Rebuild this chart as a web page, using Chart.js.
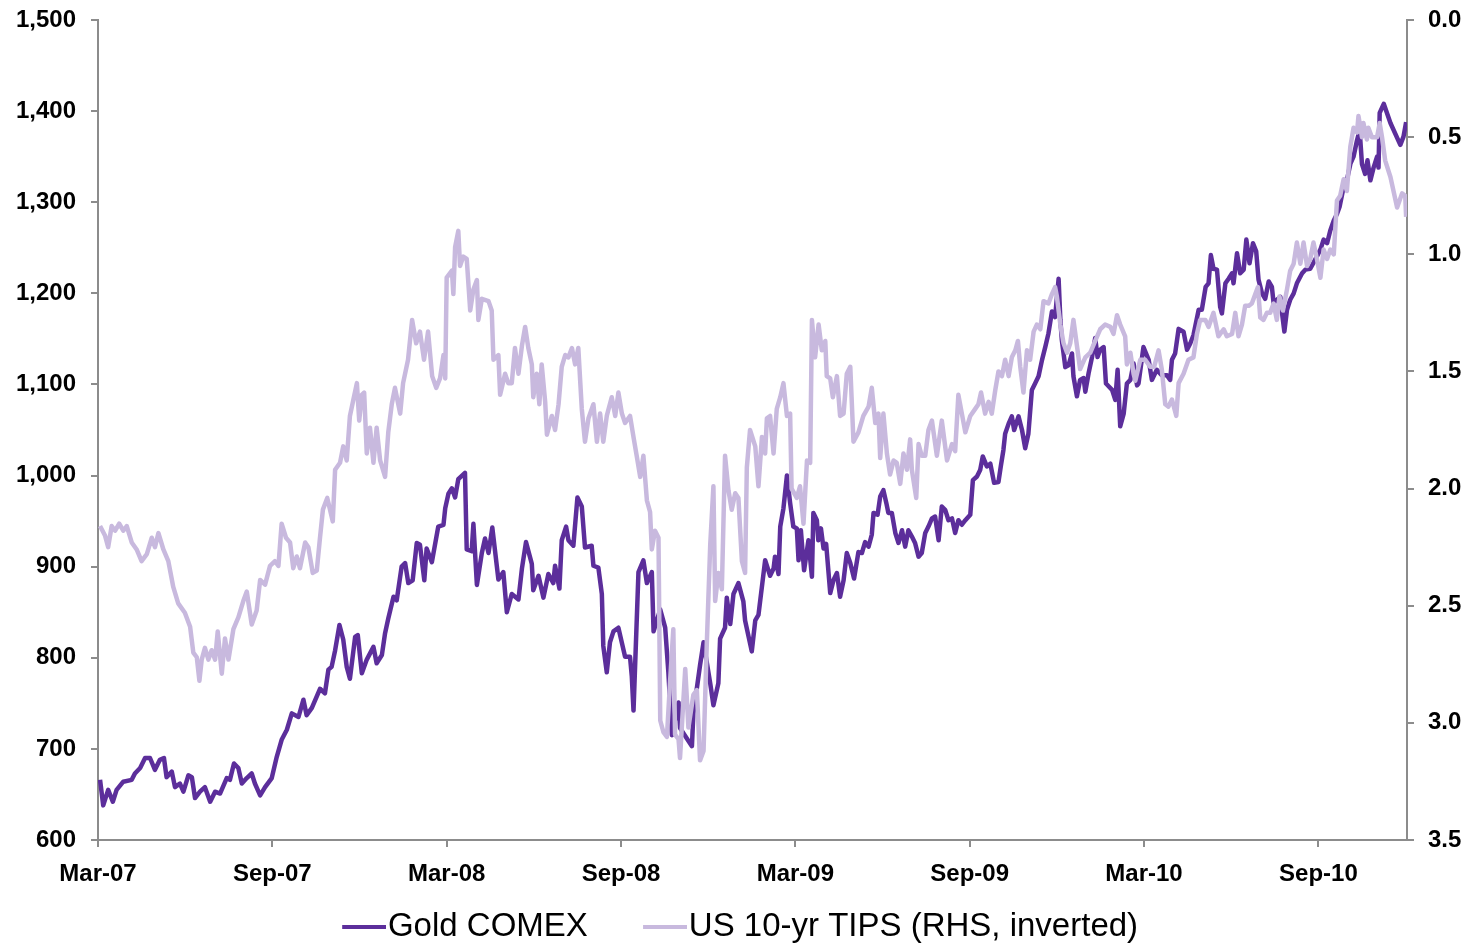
<!DOCTYPE html>
<html>
<head>
<meta charset="utf-8">
<script src="https://cdn.jsdelivr.net/npm/chart.js@4.4.0/dist/chart.umd.min.js"></script>
<style>
  body { margin: 0; background: #fff; }
  canvas { display: block; }
</style>
</head>
<body>
<canvas id="chart" width="1473" height="944"></canvas>
<script>
// x = months since Mar-07
const tickMonths = [0, 6, 12, 18, 24, 30, 36, 42];
const tickLabels = ['Mar-07', 'Sep-07', 'Mar-08', 'Sep-08', 'Mar-09', 'Sep-09', 'Mar-10', 'Sep-10'];

// Gold COMEX, USD/oz  [month, value]
const goldPoints = [
  [0.07,666],[0.18,638],[0.35,655],[0.51,642],[0.64,655],[0.87,664],[1.16,666],[1.27,673],[1.45,679],[1.62,690],
  [1.79,690],[1.96,677],[2.13,688],[2.27,690],[2.36,669],[2.54,675],[2.65,658],[2.82,662],[2.94,653],[3.11,671],
  [3.23,669],[3.34,646],[3.51,653],[3.68,658],[3.86,642],[4.03,653],[4.20,651],[4.43,668],[4.54,666],[4.68,684],
  [4.83,679],[4.95,662],[5.12,668],[5.29,673],[5.40,662],[5.58,649],[5.75,658],[5.98,668],[6.15,691],[6.32,710],
  [6.50,721],[6.67,739],[6.90,735],[7.07,754],[7.18,737],[7.36,745],[7.64,766],[7.81,761],[7.93,787],[8.04,790],
  [8.16,808],[8.31,836],[8.44,820],[8.56,790],[8.67,777],[8.85,823],[8.94,825],[9.08,783],[9.25,798],[9.48,812],
  [9.59,794],[9.77,803],[9.88,827],[9.99,843],[10.17,867],[10.28,863],[10.45,900],[10.57,904],[10.68,882],[10.83,885],
  [10.97,926],[11.08,924],[11.23,885],[11.31,920],[11.49,905],[11.71,944],[11.89,946],[11.95,964],[12.06,980],[12.18,986],
  [12.29,976],[12.40,996],[12.63,1003],[12.69,919],[12.86,917],[12.92,947],[13.04,880],[13.21,915],[13.32,931],[13.44,915],
  [13.57,943],[13.78,886],[13.95,894],[14.07,850],[14.24,870],[14.47,864],[14.59,898],[14.73,927],[14.93,903],[14.98,874],
  [15.16,890],[15.33,866],[15.50,892],[15.67,882],[15.73,901],[15.88,876],[15.96,929],[16.11,944],[16.19,929],[16.36,923],
  [16.50,976],[16.65,966],[16.76,921],[16.99,923],[17.05,901],[17.22,899],[17.34,870],[17.39,813],[17.51,784],[17.62,817],
  [17.74,829],[17.91,833],[18.14,801],[18.31,801],[18.37,780],[18.43,742],[18.60,894],[18.77,907],[18.89,882],[19.06,894],
  [19.12,829],[19.35,853],[19.52,833],[19.63,784],[19.75,715],[19.98,751],[20.03,723],[20.44,703],[20.49,739],[20.72,792],
  [20.84,817],[21.07,772],[21.18,748],[21.35,772],[21.41,821],[21.58,833],[21.64,866],[21.76,837],[21.87,870],[22.04,882],
  [22.21,862],[22.27,841],[22.50,807],[22.62,841],[22.73,847],[22.96,907],[23.13,890],[23.25,898],[23.30,911],[23.42,892],
  [23.48,944],[23.59,964],[23.71,1000],[23.82,970],[23.93,944],[24.05,942],[24.11,907],[24.19,940],[24.30,896],[24.45,929],
  [24.57,889],[24.62,959],[24.74,951],[24.79,929],[24.88,942],[24.97,920],[25.06,925],[25.20,871],[25.31,885],[25.43,893],
  [25.54,867],[25.66,885],[25.77,915],[25.89,904],[26.02,887],[26.17,916],[26.29,915],[26.40,927],[26.52,922],[26.63,935],
  [26.69,959],[26.83,957],[26.92,977],[27.03,984],[27.13,970],[27.20,959],[27.32,959],[27.44,937],[27.55,926],[27.67,940],
  [27.78,922],[27.89,940],[28.01,933],[28.12,926],[28.24,911],[28.35,915],[28.47,937],[28.58,944],[28.70,953],[28.81,955],
  [28.93,929],[29.04,966],[29.16,962],[29.27,951],[29.39,953],[29.50,937],[29.61,951],[29.73,946],[29.85,951],[30.02,957],
  [30.11,995],[30.25,999],[30.36,1006],[30.45,1021],[30.59,1010],[30.71,1013],[30.84,992],[30.99,993],[31.07,1010],[31.16,1028],
  [31.22,1046],[31.34,1057],[31.45,1065],[31.53,1050],[31.68,1065],[31.80,1050],[31.91,1030],[32.02,1046],[32.14,1094],[32.25,1101],
  [32.37,1109],[32.49,1127],[32.60,1141],[32.71,1156],[32.83,1180],[32.94,1174],[33.06,1216],[33.12,1171],[33.17,1149],[33.29,1119],
  [33.40,1121],[33.52,1134],[33.57,1109],[33.69,1087],[33.80,1105],[33.92,1107],[33.98,1092],[34.09,1112],[34.21,1130],[34.32,1151],
  [34.40,1130],[34.49,1138],[34.61,1141],[34.69,1101],[34.78,1098],[34.90,1094],[35.01,1083],[35.09,1116],[35.18,1054],[35.30,1068],
  [35.41,1101],[35.53,1105],[35.64,1123],[35.76,1099],[35.81,1101],[35.98,1141],[36.16,1127],[36.27,1105],[36.44,1116],[36.61,1110],
  [36.79,1110],[36.90,1105],[36.96,1127],[37.07,1134],[37.19,1161],[37.36,1158],[37.48,1138],[37.59,1145],[37.70,1154],[37.88,1182],
  [37.99,1182],[38.12,1207],[38.22,1211],[38.30,1242],[38.39,1227],[38.51,1226],[38.62,1185],[38.68,1178],[38.80,1211],[38.91,1216],
  [39.03,1222],[39.08,1211],[39.20,1244],[39.31,1222],[39.43,1226],[39.52,1259],[39.63,1233],[39.75,1255],[39.86,1246],[39.94,1215],
  [40.06,1200],[40.17,1194],[40.29,1213],[40.40,1207],[40.46,1189],[40.57,1193],[40.69,1196],[40.75,1178],[40.83,1158],[40.92,1182],
  [41.03,1193],[41.15,1200],[41.26,1211],[41.44,1222],[41.55,1226],[41.72,1227],[41.89,1237],[42.07,1248],[42.18,1259],[42.30,1255],
  [42.41,1269],[42.53,1280],[42.64,1287],[42.73,1295],[42.87,1317],[42.98,1324],[43.10,1342],[43.21,1350],[43.33,1368],[43.42,1379],
  [43.50,1342],[43.61,1331],[43.69,1346],[43.79,1324],[43.90,1338],[44.02,1350],[44.07,1338],[44.11,1398],[44.25,1408],[44.48,1387],
  [44.82,1363],[44.93,1372],[45.02,1388]
];

// US 10-yr TIPS real yield, %  [month, value]
const tipsPoints = [
  [0.07,2.16],[0.24,2.20],[0.35,2.25],[0.47,2.16],[0.59,2.18],[0.73,2.15],[0.87,2.18],[0.99,2.16],[1.16,2.23],[1.33,2.26],
  [1.50,2.31],[1.68,2.28],[1.85,2.21],[1.96,2.25],[2.08,2.19],[2.25,2.26],[2.42,2.31],[2.59,2.42],[2.76,2.49],[2.99,2.53],
  [3.17,2.59],[3.28,2.70],[3.40,2.72],[3.49,2.82],[3.57,2.73],[3.68,2.68],[3.80,2.73],[3.91,2.69],[4.03,2.73],[4.12,2.61],
  [4.26,2.79],[4.37,2.64],[4.49,2.73],[4.66,2.60],[4.83,2.55],[5.00,2.48],[5.12,2.44],[5.29,2.58],[5.46,2.52],[5.58,2.39],
  [5.75,2.41],[5.92,2.33],[6.09,2.31],[6.21,2.33],[6.32,2.15],[6.47,2.21],[6.61,2.23],[6.72,2.34],[6.84,2.29],[6.95,2.34],
  [7.13,2.23],[7.24,2.25],[7.39,2.36],[7.53,2.35],[7.64,2.21],[7.74,2.09],[7.89,2.04],[8.08,2.14],[8.16,1.92],[8.33,1.89],
  [8.44,1.82],[8.56,1.88],[8.67,1.69],[8.79,1.62],[8.91,1.55],[8.99,1.71],[9.08,1.60],[9.16,1.59],[9.25,1.85],[9.36,1.74],
  [9.48,1.89],[9.59,1.74],[9.71,1.88],[9.88,1.95],[9.99,1.76],[10.11,1.64],[10.22,1.57],[10.40,1.68],[10.50,1.55],[10.67,1.45],
  [10.81,1.28],[10.95,1.38],[11.08,1.33],[11.22,1.45],[11.36,1.33],[11.50,1.52],[11.64,1.57],[11.77,1.53],[11.89,1.43],[11.95,1.53],
  [12.00,1.10],[12.18,1.07],[12.23,1.17],[12.29,0.97],[12.40,0.90],[12.46,1.05],[12.57,1.01],[12.69,1.02],[12.81,1.24],[12.92,1.15],
  [13.04,1.11],[13.09,1.28],[13.21,1.19],[13.44,1.20],[13.55,1.24],[13.61,1.45],[13.78,1.43],[13.84,1.60],[14.01,1.51],[14.12,1.55],
  [14.24,1.55],[14.35,1.40],[14.47,1.51],[14.59,1.39],[14.70,1.31],[14.81,1.40],[14.93,1.47],[14.98,1.61],[15.10,1.51],[15.19,1.64],
  [15.27,1.47],[15.39,1.63],[15.45,1.77],[15.62,1.69],[15.73,1.75],[15.85,1.64],[15.96,1.48],[16.08,1.43],[16.19,1.44],[16.31,1.40],
  [16.42,1.47],[16.53,1.40],[16.65,1.66],[16.76,1.80],[16.88,1.70],[17.05,1.64],[17.17,1.80],[17.28,1.68],[17.39,1.80],[17.51,1.69],
  [17.68,1.61],[17.80,1.69],[17.91,1.59],[18.03,1.68],[18.14,1.72],[18.31,1.69],[18.43,1.78],[18.54,1.86],[18.66,1.95],[18.77,1.86],
  [18.89,2.05],[19.00,2.10],[19.06,2.26],[19.17,2.18],[19.29,2.21],[19.35,2.99],[19.46,3.04],[19.58,3.06],[19.69,2.82],[19.80,2.60],
  [19.86,3.05],[19.98,3.07],[20.03,3.15],[20.21,2.77],[20.32,3.02],[20.49,2.88],[20.61,2.86],[20.72,3.16],[20.84,3.12],[20.95,2.67],
  [21.07,2.24],[21.18,1.99],[21.24,2.48],[21.35,2.36],[21.47,2.43],[21.58,1.86],[21.70,2.01],[21.81,2.09],[21.93,2.02],[22.04,2.04],
  [22.16,2.31],[22.27,2.36],[22.33,1.91],[22.44,1.75],[22.62,1.82],[22.73,1.99],[22.85,1.78],[22.96,1.85],[23.02,1.70],[23.13,1.69],
  [23.25,1.85],[23.36,1.66],[23.48,1.61],[23.59,1.55],[23.71,1.69],[23.82,1.68],[23.87,2.00],[24.05,2.04],[24.16,1.99],[24.28,2.15],
  [24.40,1.88],[24.51,1.89],[24.57,1.28],[24.68,1.44],[24.80,1.30],[24.91,1.41],[25.03,1.37],[25.08,1.52],[25.20,1.53],[25.29,1.61],
  [25.43,1.52],[25.54,1.69],[25.66,1.68],[25.77,1.51],[25.89,1.48],[26.00,1.80],[26.17,1.76],[26.34,1.69],[26.52,1.65],[26.63,1.57],
  [26.75,1.72],[26.86,1.68],[26.92,1.87],[27.03,1.68],[27.15,1.85],[27.26,1.94],[27.38,1.88],[27.49,1.89],[27.61,1.98],[27.72,1.85],
  [27.84,1.92],[27.95,1.79],[28.01,1.92],[28.16,2.04],[28.24,1.81],[28.35,1.86],[28.47,1.86],[28.58,1.75],[28.70,1.71],[28.87,1.86],
  [29.04,1.71],[29.22,1.88],[29.39,1.81],[29.50,1.84],[29.61,1.60],[29.73,1.68],[29.85,1.76],[30.02,1.69],[30.19,1.66],[30.30,1.64],
  [30.39,1.59],[30.53,1.68],[30.65,1.63],[30.76,1.68],[30.88,1.58],[30.99,1.50],[31.11,1.52],[31.22,1.45],[31.34,1.52],[31.45,1.44],
  [31.57,1.41],[31.66,1.37],[31.74,1.48],[31.85,1.59],[31.97,1.41],[32.08,1.45],[32.20,1.33],[32.31,1.30],[32.43,1.32],[32.54,1.20],
  [32.71,1.21],[32.83,1.17],[32.94,1.14],[33.00,1.18],[33.12,1.30],[33.23,1.38],[33.35,1.42],[33.46,1.38],[33.57,1.28],[33.69,1.39],
  [33.80,1.49],[33.98,1.44],[34.15,1.42],[34.32,1.37],[34.49,1.32],[34.66,1.30],[34.84,1.31],[34.95,1.34],[35.07,1.26],[35.18,1.30],
  [35.35,1.35],[35.41,1.47],[35.53,1.42],[35.64,1.51],[35.70,1.54],[35.87,1.45],[36.04,1.45],[36.21,1.48],[36.35,1.48],[36.50,1.41],
  [36.61,1.49],[36.73,1.64],[36.84,1.65],[36.96,1.62],[37.11,1.69],[37.19,1.55],[37.36,1.51],[37.53,1.45],[37.70,1.44],[37.82,1.34],
  [37.93,1.28],[38.11,1.28],[38.22,1.31],[38.39,1.25],[38.56,1.35],[38.74,1.32],[38.85,1.35],[39.03,1.34],[39.14,1.25],[39.25,1.35],
  [39.37,1.30],[39.48,1.22],[39.60,1.22],[39.71,1.21],[39.83,1.17],[39.92,1.14],[40.00,1.27],[40.11,1.28],[40.23,1.25],[40.34,1.25],
  [40.46,1.21],[40.57,1.28],[40.66,1.18],[40.78,1.24],[40.92,1.15],[41.03,1.07],[41.15,1.04],[41.26,0.95],[41.38,1.04],[41.49,0.95],
  [41.61,1.05],[41.72,1.02],[41.83,0.95],[41.95,1.02],[42.07,1.10],[42.18,0.98],[42.30,1.02],[42.41,0.98],[42.53,1.00],[42.64,0.77],
  [42.75,0.75],[42.87,0.68],[42.98,0.73],[43.10,0.54],[43.21,0.46],[43.33,0.48],[43.38,0.41],[43.50,0.50],[43.55,0.44],[43.67,0.51],
  [43.72,0.46],[43.84,0.50],[44.02,0.50],[44.11,0.44],[44.19,0.50],[44.30,0.60],[44.48,0.67],[44.71,0.80],[44.88,0.74],[44.99,0.75],
  [45.02,0.84]
];

const GOLD = '#5c2e9b';
const TIPS = '#c8b9de';
const AXIS = '#8c8c8c';
const FONT = "'Liberation Sans', Arial, sans-serif";

// short legend stroke, line sits at the right of the image so it hugs the text
function legendLine(color) {
  const c = document.createElement('canvas');
  c.width = 104;
  c.height = 4;
  const g = c.getContext('2d');
  g.fillStyle = color;
  g.fillRect(60, 0, 44, 4);
  return c;
}

const tickFont = { family: FONT, size: 24, weight: 'bold' };

// fixed axis box sizes; drop the label overhang padding so the plot top sits at 20px
const fitVertical = (w) => (scale) => {
  scale.width = w;
  scale.paddingTop = 0;
  scale.paddingBottom = 0;
};

new Chart(document.getElementById('chart'), {
  type: 'line',
  data: {
    datasets: [
      {
        label: 'Gold COMEX',
        data: goldPoints.map(([x, y]) => ({ x, y })),
        borderColor: GOLD,
        backgroundColor: GOLD,
        borderWidth: 4.5,
        pointRadius: 0,
        pointStyle: legendLine(GOLD),
        tension: 0,
        borderJoinStyle: 'round',
        yAxisID: 'y',
        order: 1
      },
      {
        label: 'US 10-yr TIPS (RHS, inverted)',
        data: tipsPoints.map(([x, y]) => ({ x, y })),
        borderColor: TIPS,
        backgroundColor: TIPS,
        borderWidth: 4.5,
        pointRadius: 0,
        pointStyle: legendLine(TIPS),
        tension: 0,
        borderJoinStyle: 'round',
        yAxisID: 'y1',
        order: 0
      }
    ]
  },
  options: {
    responsive: false,
    animation: false,
    devicePixelRatio: 1,
    layout: { padding: { top: 20, right: 0, bottom: -9.5, left: -38 } },
    plugins: {
      tooltip: { enabled: false },
      legend: {
        position: 'bottom',
        labels: {
          usePointStyle: true,
          pointStyleWidth: 74.5,
          padding: 10,
          color: '#000',
          font: { family: FONT, size: 33 },
          sort: (a, b) => a.datasetIndex - b.datasetIndex
        }
      }
    },
    scales: {
      x: {
        type: 'linear',
        min: 0,
        max: 45.05,
        grid: { drawOnChartArea: false, drawTicks: true, tickLength: 7, color: AXIS, lineWidth: 2 },
        border: { color: AXIS, width: 2 },
        afterBuildTicks: (axis) => { axis.ticks = tickMonths.map(v => ({ value: v })); },
        afterFit: (scale) => { scale.height = 60.5; },
        ticks: {
          autoSkip: false,
          maxRotation: 0,
          padding: 13,
          color: '#000',
          font: tickFont,
          callback: (v) => tickLabels[tickMonths.indexOf(v)]
        }
      },
      y: {
        position: 'left',
        min: 600,
        max: 1500,
        grid: { drawOnChartArea: false, drawTicks: true, tickLength: 7, color: AXIS, lineWidth: 2 },
        border: { color: AXIS, width: 2 },
        afterFit: fitVertical(136),
        ticks: {
          stepSize: 100,
          padding: 15,
          color: '#000',
          font: tickFont,
          callback: (v) => v.toLocaleString('en-US')
        }
      },
      y1: {
        position: 'right',
        min: 0,
        max: 3.5,
        reverse: true,
        grid: { drawOnChartArea: false, drawTicks: true, tickLength: 7, color: AXIS, lineWidth: 2 },
        border: { color: AXIS, width: 2 },
        afterFit: fitVertical(66),
        ticks: {
          stepSize: 0.5,
          padding: 14,
          color: '#000',
          font: tickFont,
          callback: (v) => v.toFixed(1)
        }
      }
    }
  }
});
</script>
</body>
</html>
